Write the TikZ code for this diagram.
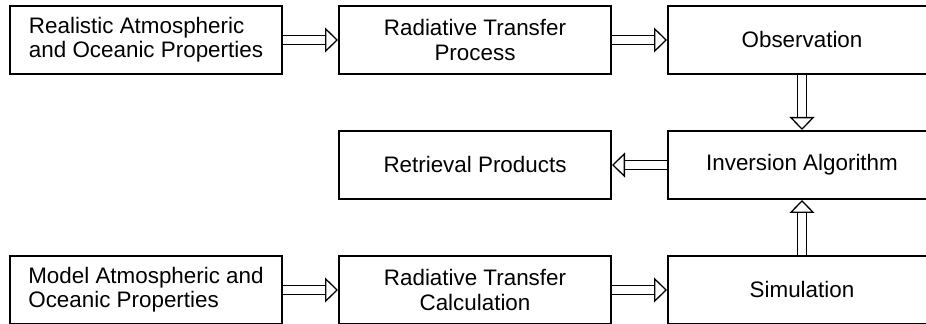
\documentclass[tikz,border=0pt]{standalone}
\usepackage{fontspec}
\setmainfont{Liberation Sans}
\usetikzlibrary{positioning,arrows.meta}

\begin{document}
\begin{tikzpicture}[
  node distance=27.5pt,
  every node/.style={font=\fontsize{11.2}{12.2}\selectfont}
]
\tikzstyle{boks}=[draw=black, line width=1pt, minimum width=136pt, minimum height=34pt, align=center, inner sep=0pt]
\tikzstyle{smal}=[boks, minimum width=134pt]
\tikzstyle{pil}=[draw=black, line width=0.65pt, double, double distance=3.6pt, -{Triangle[open, length=6.5pt, width=12.5pt, line width=0.65pt]}]

\useasboundingbox (0,0) rectangle (463pt,-162pt);
\clip (0,0) rectangle (463pt,-162pt);

% top row: the real world
\node[boks, align=left] (real) at (73pt,-20pt) {Realistic Atmospheric\\and Oceanic Properties};
\node[boks, right=of real] (rtp) {Radiative Transfer\\Process};
\node[smal, right=of rtp] (obs) {Observation};

% middle row
\node[smal, below=of obs] (inv) {Inversion Algorithm};
\node[boks, left=of inv] (prod) {Retrieval Products};

% bottom row: the model
\node[smal, below=of inv] (sim) {Simulation};
\node[boks, left=of sim] (rtc) {Radiative Transfer\\Calculation};
\node[boks, left=of rtc, align=left] (model) {Model Atmospheric and\\Oceanic Properties};

\draw[pil] (real) -- (rtp);
\draw[pil] (rtp) -- (obs);
\draw[pil] (obs) -- (inv);
\draw[pil] (inv) -- (prod);
\draw[pil] (sim) -- (inv);
\draw[pil] (model) -- (rtc);
\draw[pil] (rtc) -- (sim);
\end{tikzpicture}
\end{document}
